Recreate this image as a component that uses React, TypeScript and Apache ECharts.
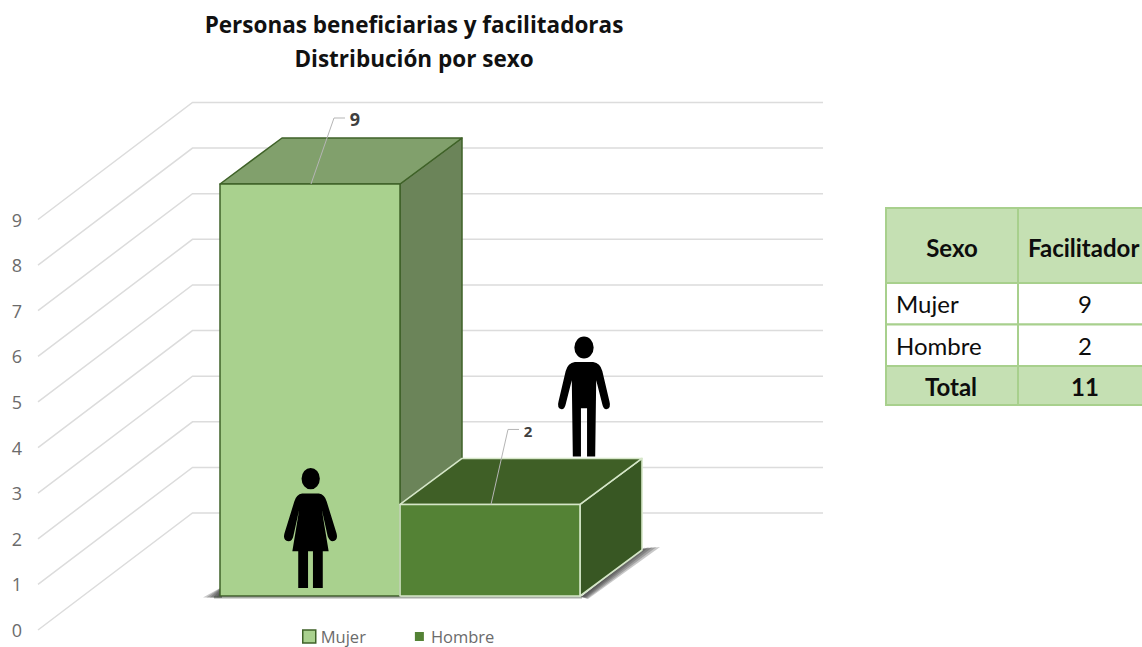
import React, { useEffect, useRef } from "react";
import * as echarts from "echarts";

const titleLines = ["Personas beneficiarias y facilitadoras", "Distribución por sexo"];
const categories = ["Mujer", "Hombre"];
const mujerValues = [[0, 9]];
const hombreValues = [[1, 2]];
const yTicks = [0, 1, 2, 3, 4, 5, 6, 7, 8, 9];
const tableHeader = ["Sexo", "Facilitador"];
const tableRows = [
  ["Mujer", "9"],
  ["Hombre", "2"],
];
const tableTotal = ["Total", "11"];

const DEPTH_X = 62;
const DEPTH_Y = 46;
const WALL_DX = 154.5;
const WALL_DY = 117;
const WALL_END = 823;
const AXIS_FONT = "Open Sans";

const MAN =
  "M16.5 11.5A9.5 11 0 1 1 35.5 11.5A9.5 11 0 1 1 16.5 11.5Z" +
  "M17 26L35 26Q42 27 44 35L51 65Q53 72 48 73Q45 73 44 68L38 44L37 120L29 120L29 72L23 72L23 120L15 120L14 44L8 68Q7 73 4 73Q-1 72 1 65L8 35Q10 27 17 26Z";
const WOMAN =
  "M17.4 11A9.3 10.7 0 1 1 36 11A9.3 10.7 0 1 1 17.4 11Z" +
  "M18 26L35 26Q41 27 43 34L53 66Q55 73 49 74Q46 74 44 69L38 42L45 84L39 84L39 121L29 121L29 84L24 84L24 121L14 121L14 84L8 84L15 42L9 69Q8 74 4 74Q-2 73 0 66L10 34Q12 27 18 26Z";

type BarStyle = {
  front: string;
  top: string;
  side: string;
  edge: string;
  edgeWidth: number;
  leaderRise: number;
  leaderLean: number;
  labelFont: string;
  labelDx: number;
  labelDy: number;
  decorate: (l: number, r: number, top: number, base: number, cx: number) => any[];
};

function icon(pathData: string, x: number, y: number, w: number, h: number) {
  return {
    type: "path",
    shape: { pathData, x, y, width: w, height: h, layout: "cover" },
    style: { fill: "#000" },
  };
}

const SHADOW_STEPS = [1, 0.8, 0.6, 0.4, 0.2];

function layeredShadow(shape: (t: number) => number[][]) {
  return SHADOW_STEPS.map((t) => ({
    type: "polygon",
    shape: { points: shape(t) },
    style: { fill: "rgba(50,50,50,0.27)" },
  }));
}

function barRenderer(s: BarStyle) {
  return (_p: any, api: any) => {
    const i = api.value(0);
    const v = api.value(1);
    const [cx, top] = api.coord([i, v]);
    const [, base] = api.coord([i, 0]);
    const w = api.size([1, 0])[0];
    const l = cx - w / 2;
    const r = cx + w / 2;
    const edge = { stroke: s.edge, lineWidth: s.edgeWidth, lineJoin: "round" };
    const footX = cx + 1;
    const kneeX = footX + s.leaderLean;
    const kneeY = top - s.leaderRise;
    const parts = s.decorate(l, r, top, base, cx);
    return {
      type: "group",
      children: [
        ...parts,
        {
          type: "polygon",
          shape: { points: [[r, top], [r + DEPTH_X, top - DEPTH_Y], [r + DEPTH_X, base - DEPTH_Y], [r, base]] },
          style: { fill: s.side, ...edge },
        },
        {
          type: "polygon",
          shape: { points: [[l, top], [l + DEPTH_X, top - DEPTH_Y], [r + DEPTH_X, top - DEPTH_Y], [r, top]] },
          style: { fill: s.top, ...edge },
        },
        {
          type: "rect",
          shape: { x: l, y: top, width: w, height: base - top },
          style: { fill: s.front, ...edge },
        },
        {
          type: "polyline",
          shape: { points: [[footX, top], [kneeX, kneeY], [kneeX + 11, kneeY]] },
          style: { fill: "none", stroke: "#b5b5b5", lineWidth: 1 },
        },
        {
          type: "text",
          style: {
            text: String(v),
            x: kneeX + s.labelDx,
            y: kneeY + s.labelDy,
            align: "center",
            verticalAlign: "middle",
            font: s.labelFont,
            fill: "#404040",
          },
        },
      ],
    };
  };
}

const mujerStyle: BarStyle = {
  front: "#a9d18e",
  top: "#81a06c",
  side: "#6b8459",
  edge: "#3f6228",
  edgeWidth: 1.5,
  leaderRise: 66,
  leaderLean: 23,
  labelFont: "bold 18px 'Open Sans'",
  labelDx: 21,
  labelDy: 1,
  decorate: (l, _r, _top, base) =>
    layeredShadow((t) => [[l + 2, base - 9], [l - 17 * t, base + 1.5], [l + 2, base + 1.5]]),
};

const hombreStyle: BarStyle = {
  front: "#548235",
  top: "#3f5f26",
  side: "#385723",
  edge: "#d5e6c8",
  edgeWidth: 1.6,
  leaderRise: 75,
  leaderLean: 17,
  labelFont: "bold 15px 'Open Sans'",
  labelDx: 20,
  labelDy: 2,
  decorate: (l, r, top, base, cx) => [
    icon(MAN, cx + 68, top - 168, 52, 120),
    ...layeredShadow((t) => [
      [r + 1, base + 1],
      [r + DEPTH_X, base - DEPTH_Y - 1],
      [r + DEPTH_X + 18 * t, base - DEPTH_Y - 3],
      [r + 4 + 4 * t, base + 3 * t],
    ]),
    {
      type: "rect",
      shape: { x: l - 180 - 6, y: base, width: 360 + 8, height: 2.5 },
      style: { fill: "rgba(80,90,75,0.5)" },
    },
  ],
};

function tableGraphics() {
  const left = 886;
  const mid = 1018;
  const right = 1160;
  const ys = [208, 283, 324.5, 366, 405];
  const border = { stroke: "#a8d08d", lineWidth: 2 };
  const els: any[] = [];
  const cell = (x: number, y: number, w: number, h: number, fill: string) =>
    els.push({ type: "rect", shape: { x, y, width: w, height: h }, style: { fill, ...border } });
  const label = (text: string, x: number, y: number, align: string, bold: boolean) =>
    els.push({
      type: "text",
      x,
      y,
      style: {
        text,
        align,
        verticalAlign: "middle",
        fontFamily: "Lato",
        fontWeight: bold ? "bold" : "normal",
        fontSize: 24,
        fill: "#0d0d0d",
      },
    });
  const GREEN = "#c5e0b3";
  const WHITE = "#ffffff";
  const fills = [GREEN, WHITE, WHITE, GREEN];
  fills.forEach((f, r) => {
    cell(left, ys[r], mid - left, ys[r + 1] - ys[r], f);
    cell(mid, ys[r], right - mid, ys[r + 1] - ys[r], f);
  });
  label(tableHeader[0], 952, 247, "center", true);
  label(tableHeader[1], 1028, 247, "left", true);
  tableRows.forEach((row, r) => {
    const y = (ys[r + 1] + ys[r + 2]) / 2;
    label(row[0], 896, y, "left", false);
    label(row[1], 1085, y, "center", false);
  });
  label(tableTotal[0], 951, 386, "center", true);
  label(tableTotal[1], 1085, 386, "center", true);
  return els;
}

export default function App() {
  const ref = useRef<HTMLDivElement>(null);
  useEffect(() => {
    document.body.style.margin = "0";
    const chart = echarts.init(ref.current!, null, { renderer: "svg" });
    chart.setOption({
      animation: false,
      backgroundColor: "#ffffff",
      title: {
        text: titleLines.join("\n"),
        left: 409,
        top: 2,
        textAlign: "center",
        textStyle: {
          fontFamily: "Open Sans",
          fontWeight: "bold",
          fontSize: 22.5,
          lineHeight: 34,
          color: "#111111",
        },
      },
      legend: {
        left: 297,
        top: 628,
        itemGap: 47,
        itemWidth: 13,
        itemHeight: 13,
        padding: [0, 5, 0, 5],
        selectedMode: false,
        textStyle: { fontFamily: AXIS_FONT, fontSize: 16.5, color: "#6b6b6b", lineHeight: 17 },
        data: [
          {
            name: categories[0],
            icon: "rect",
            itemStyle: { color: "#a9d18e", borderColor: "#3f6228", borderWidth: 1.5 },
          },
          {
            name: categories[1],
            icon: "path://M0 0L0 0M13 13L13 13M2 2H11V11H2Z",
            itemStyle: { color: "#548235", borderWidth: 0 },
          },
        ],
      },
      grid: [
        { left: 220, width: 360, top: 184, height: 412 },
        { left: 38, width: 785, top: 219.5, height: 410.5 },
      ],
      xAxis: [
        { type: "category", gridIndex: 0, data: categories, show: false },
        { type: "value", gridIndex: 1, min: 0, max: 1, show: false },
      ],
      yAxis: [
        { type: "value", gridIndex: 0, min: 0, max: 9, interval: 1, show: false },
        {
          type: "value",
          gridIndex: 1,
          min: 0,
          max: 9,
          interval: 1,
          axisLine: { show: false },
          axisTick: { show: false },
          splitLine: { show: false },
          axisLabel: {
            margin: 16,
            fontFamily: AXIS_FONT,
            fontSize: 18,
            color: "#6b6b6b",
          },
        },
      ],
      graphic: tableGraphics(),
      series: [
        {
          type: "custom",
          name: "wall",
          xAxisIndex: 1,
          yAxisIndex: 1,
          z: 1,
          silent: true,
          data: yTicks.map((t) => [0, t]),
          encode: { x: 0, y: 1 },
          renderItem: (_p: any, api: any) => {
            const [x, y] = api.coord([0, api.value(1)]);
            return {
              type: "polyline",
              shape: {
                points: [
                  [x, y],
                  [x + WALL_DX, y - WALL_DY],
                  [WALL_END, y - WALL_DY],
                ],
              },
              style: { fill: "none", stroke: "#dcdcdc", lineWidth: 1.5 },
            };
          },
        },
        {
          type: "custom",
          name: categories[0],
          xAxisIndex: 0,
          yAxisIndex: 0,
          z: 2,
          silent: true,
          data: mujerValues,
          encode: { x: 0, y: 1 },
          renderItem: barRenderer(mujerStyle),
          itemStyle: { color: "#a9d18e" },
        },
        {
          type: "custom",
          name: categories[1],
          xAxisIndex: 0,
          yAxisIndex: 0,
          z: 3,
          silent: true,
          data: hombreValues,
          encode: { x: 0, y: 1 },
          renderItem: barRenderer(hombreStyle),
          itemStyle: { color: "#548235" },
        },
        {
          type: "custom",
          name: "figura",
          xAxisIndex: 0,
          yAxisIndex: 0,
          z: 4,
          silent: true,
          data: mujerValues,
          encode: { x: 0, y: 1 },
          renderItem: (_p: any, api: any) => {
            const [cx, base] = api.coord([api.value(0), 0]);
            return icon(WOMAN, cx - 26, base - 128, 53, 120);
          },
        },
      ],
    });
    return () => chart.dispose();
  }, []);
  return (
    <div
      ref={ref}
      style={{ position: "absolute", left: 0, top: 0, width: 1142, height: 647, overflow: "hidden" }}
    />
  );
}
